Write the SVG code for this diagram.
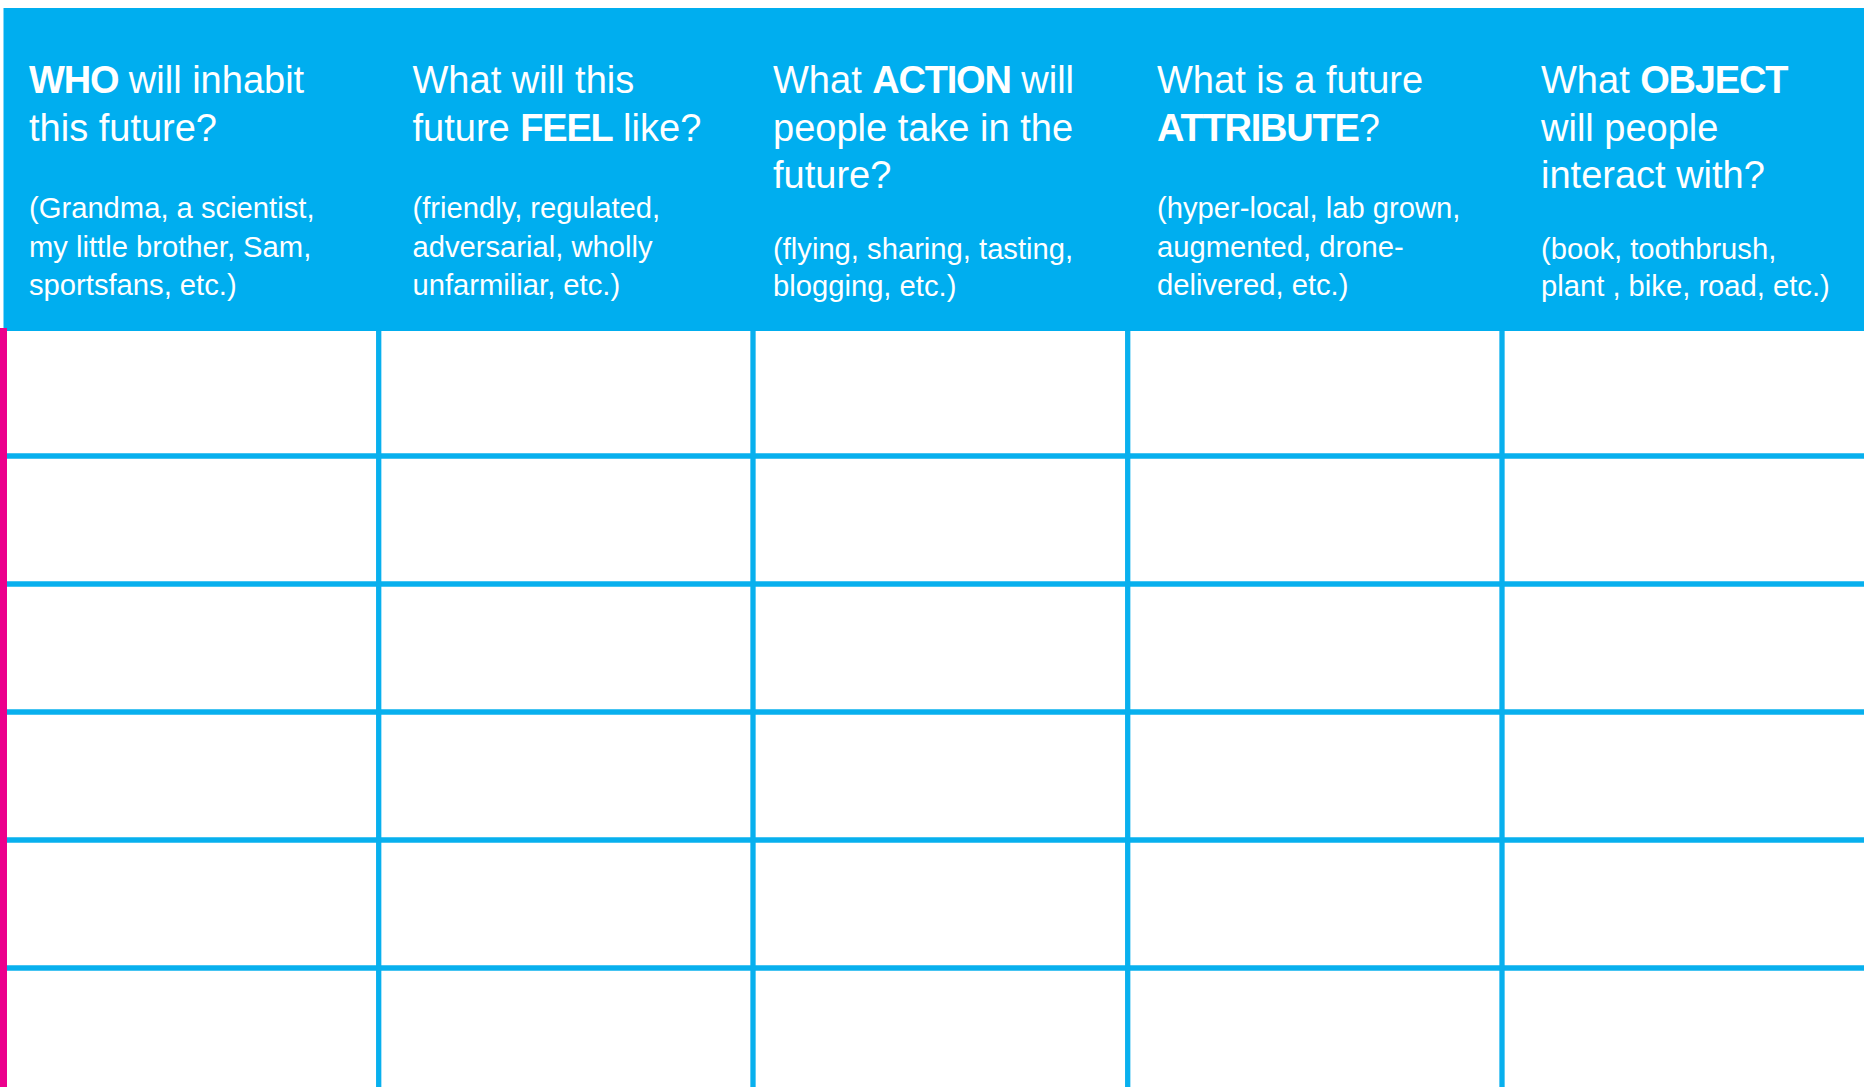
<svg xmlns="http://www.w3.org/2000/svg" width="1864" height="1087" viewBox="0 0 1864 1087">
  <style>
    .hdr { fill: #00AEEF; }
    .t { font-family: "Liberation Sans", Arial, sans-serif; fill: #FFFFFF; font-size: 38px; }
    .s { font-family: "Liberation Sans", Arial, sans-serif; fill: #FFFFFF; font-size: 29.2px; }
    .b { font-weight: bold; letter-spacing: -1.2px; }
    .grid line { stroke: #08B0EE; stroke-width: 5.3; }
  </style>
  <rect x="0" y="0" width="1864" height="1087" fill="#FFFFFF"/>
  <rect class="hdr" x="3.5" y="8" width="1860.5" height="323"/>
  <rect x="0" y="328" width="7" height="759" fill="#EC008C"/>

  <g id="grid" class="grid">
    <line x1="7" y1="456" x2="1864" y2="456"/>
    <line x1="7" y1="584" x2="1864" y2="584"/>
    <line x1="7" y1="712" x2="1864" y2="712"/>
    <line x1="7" y1="840" x2="1864" y2="840"/>
    <line x1="7" y1="968" x2="1864" y2="968"/>
    <line x1="378.7" y1="331" x2="378.7" y2="1087"/>
    <line x1="753" y1="331" x2="753" y2="1087"/>
    <line x1="1127.7" y1="331" x2="1127.7" y2="1087"/>
    <line x1="1502" y1="331" x2="1502" y2="1087"/>
  </g>

  <g id="col-who">
    <text class="t" x="29" y="93"><tspan class="b">WHO</tspan> will inhabit</text>
    <text class="t" x="29" y="140.5">this future?</text>
    <text class="s" x="29" y="218">(Grandma, a scientist,</text>
    <text class="s" x="29" y="256.5">my little brother, Sam,</text>
    <text class="s" x="29" y="295">sportsfans, etc.)</text>
  </g>

  <g id="col-feel">
    <text class="t" x="412.5" y="93">What will this</text>
    <text class="t" x="412.5" y="140.5">future <tspan class="b">FEEL</tspan> like?</text>
    <text class="s" x="412.5" y="218">(friendly, regulated,</text>
    <text class="s" x="412.5" y="256.5">adversarial, wholly</text>
    <text class="s" x="412.5" y="295">unfarmiliar, etc.)</text>
  </g>

  <g id="col-action">
    <text class="t" x="773" y="93">What <tspan class="b">ACTION</tspan> will</text>
    <text class="t" x="773" y="140.5">people take in the</text>
    <text class="t" x="773" y="188">future?</text>
    <text class="s" x="773" y="258.5">(flying, sharing, tasting,</text>
    <text class="s" x="773" y="296">blogging, etc.)</text>
  </g>

  <g id="col-attribute">
    <text class="t" x="1157" y="93">What is a future</text>
    <text class="t" x="1157" y="140.5"><tspan class="b">ATTRIBUTE</tspan>?</text>
    <text class="s" x="1157" y="218">(hyper-local, lab grown,</text>
    <text class="s" x="1157" y="256.5">augmented, drone-</text>
    <text class="s" x="1157" y="295">delivered, etc.)</text>
  </g>

  <g id="col-object">
    <text class="t" x="1541" y="93">What <tspan class="b">OBJECT</tspan></text>
    <text class="t" x="1541" y="140.5">will people</text>
    <text class="t" x="1541" y="188">interact with?</text>
    <text class="s" x="1541" y="258.5">(book, toothbrush,</text>
    <text class="s" x="1541" y="296">plant , bike, road, etc.)</text>
  </g>
</svg>
